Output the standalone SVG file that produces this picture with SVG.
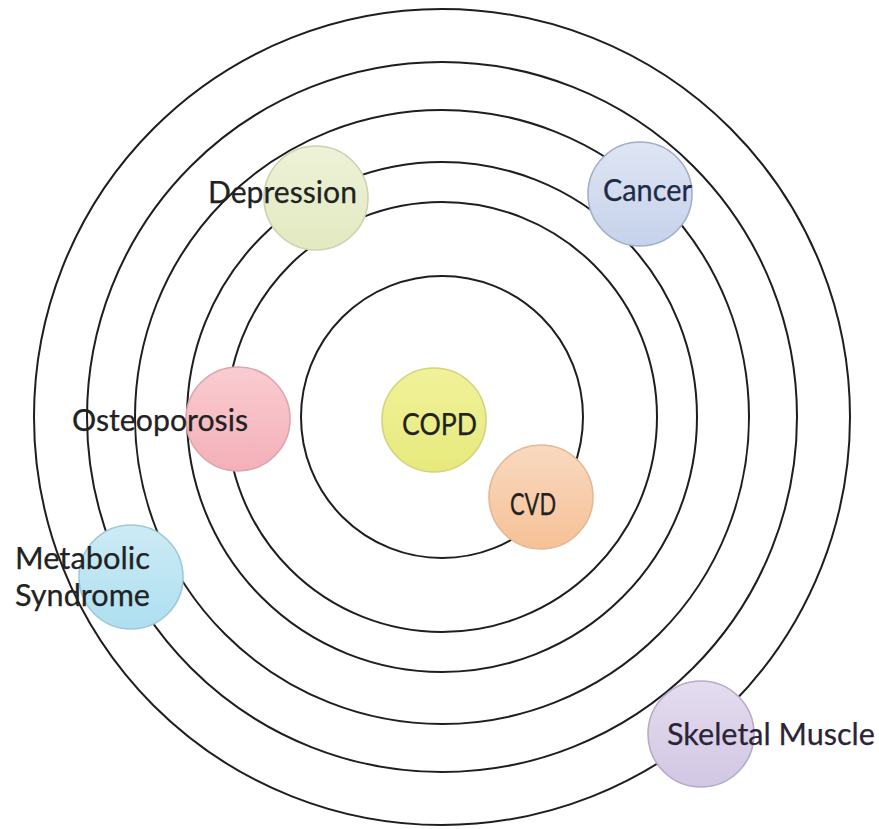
<svg xmlns="http://www.w3.org/2000/svg" width="879" height="829" viewBox="0 0 879 829">
  <style>
    .ring { fill: none; stroke: #1e1e1e; stroke-width: 2; }
    .node { stroke-width: 1.6; }
    .label { font-family: Lato, "Open Sans", "Liberation Sans", sans-serif; font-size: 31px; fill: #222; stroke: currentColor; stroke-width: 0.25; color: #222; }
  </style>
  <defs>
    <linearGradient id="gDep" x1="0" y1="0" x2="0" y2="1">
      <stop offset="0" stop-color="#eef2d8"/><stop offset="1" stop-color="#e2eac0"/>
    </linearGradient>
    <linearGradient id="gCan" x1="0" y1="0" x2="0" y2="1">
      <stop offset="0" stop-color="#dfe5f3"/><stop offset="1" stop-color="#c6d2ec"/>
    </linearGradient>
    <linearGradient id="gOst" x1="0" y1="0" x2="0" y2="1">
      <stop offset="0" stop-color="#f9ccd1"/><stop offset="1" stop-color="#f4b0b9"/>
    </linearGradient>
    <linearGradient id="gMet" x1="0" y1="0" x2="0" y2="1">
      <stop offset="0" stop-color="#cdebf5"/><stop offset="1" stop-color="#aedff0"/>
    </linearGradient>
    <linearGradient id="gCop" x1="0" y1="0" x2="0" y2="1">
      <stop offset="0" stop-color="#f1f29a"/><stop offset="1" stop-color="#e6ea7c"/>
    </linearGradient>
    <linearGradient id="gCvd" x1="0" y1="0" x2="0" y2="1">
      <stop offset="0" stop-color="#f9d9c0"/><stop offset="1" stop-color="#f6c196"/>
    </linearGradient>
    <linearGradient id="gSke" x1="0" y1="0" x2="0" y2="1">
      <stop offset="0" stop-color="#e4dcef"/><stop offset="1" stop-color="#d2c7e4"/>
    </linearGradient>
  </defs>

  <rect width="879" height="829" fill="#ffffff"/>

  <!-- concentric orbits -->
  <g id="orbits">
    <circle class="ring" cx="442" cy="417" r="141"/>
    <circle class="ring" cx="442" cy="417" r="215"/>
    <circle class="ring" cx="442" cy="417" r="255"/>
    <circle class="ring" cx="442" cy="417" r="307"/>
    <circle class="ring" cx="442" cy="417" r="355"/>
    <circle class="ring" cx="442" cy="417" r="408"/>
  </g>

  <g id="copd">
    <circle class="node" cx="434" cy="420" r="52" fill="url(#gCop)" stroke="#d2d47e"/>
    <text class="label" x="402" y="435" textLength="75" lengthAdjust="spacingAndGlyphs">COPD</text>
  </g>

  <g id="cvd">
    <circle class="node" cx="541" cy="497" r="52" fill="url(#gCvd)" stroke="#e2b996"/>
    <text class="label" x="510" y="515" textLength="46" lengthAdjust="spacingAndGlyphs">CVD</text>
  </g>

  <g id="osteoporosis">
    <circle class="node" cx="238" cy="419" r="52" fill="url(#gOst)" stroke="#dca6ad"/>
    <text class="label" x="72" y="431" textLength="176" lengthAdjust="spacingAndGlyphs">Osteoporosis</text>
  </g>

  <g id="depression">
    <circle class="node" cx="316" cy="198" r="52" fill="url(#gDep)" stroke="#cdd3b0"/>
    <text class="label" x="208" y="203" textLength="149" lengthAdjust="spacingAndGlyphs">Depression</text>
  </g>

  <g id="cancer">
    <circle class="node" cx="640" cy="194" r="52" fill="url(#gCan)" stroke="#a2afc9"/>
    <text class="label" x="603" y="201" textLength="89" lengthAdjust="spacingAndGlyphs" style="fill:#1f2b45;color:#1f2b45">Cancer</text>
  </g>

  <g id="metabolic-syndrome">
    <circle class="node" cx="131" cy="577" r="52" fill="url(#gMet)" stroke="#a0c8d6"/>
    <text class="label" x="15" y="569" textLength="135" lengthAdjust="spacingAndGlyphs">Metabolic</text>
    <text class="label" x="15" y="606" textLength="135" lengthAdjust="spacingAndGlyphs">Syndrome</text>
  </g>

  <g id="skeletal-muscle">
    <circle class="node" cx="701" cy="734" r="53" fill="url(#gSke)" stroke="#b6abc8"/>
    <text class="label" x="667" y="745" textLength="208" lengthAdjust="spacingAndGlyphs" style="fill:#2a2436;color:#2a2436">Skeletal Muscle</text>
  </g>
</svg>
